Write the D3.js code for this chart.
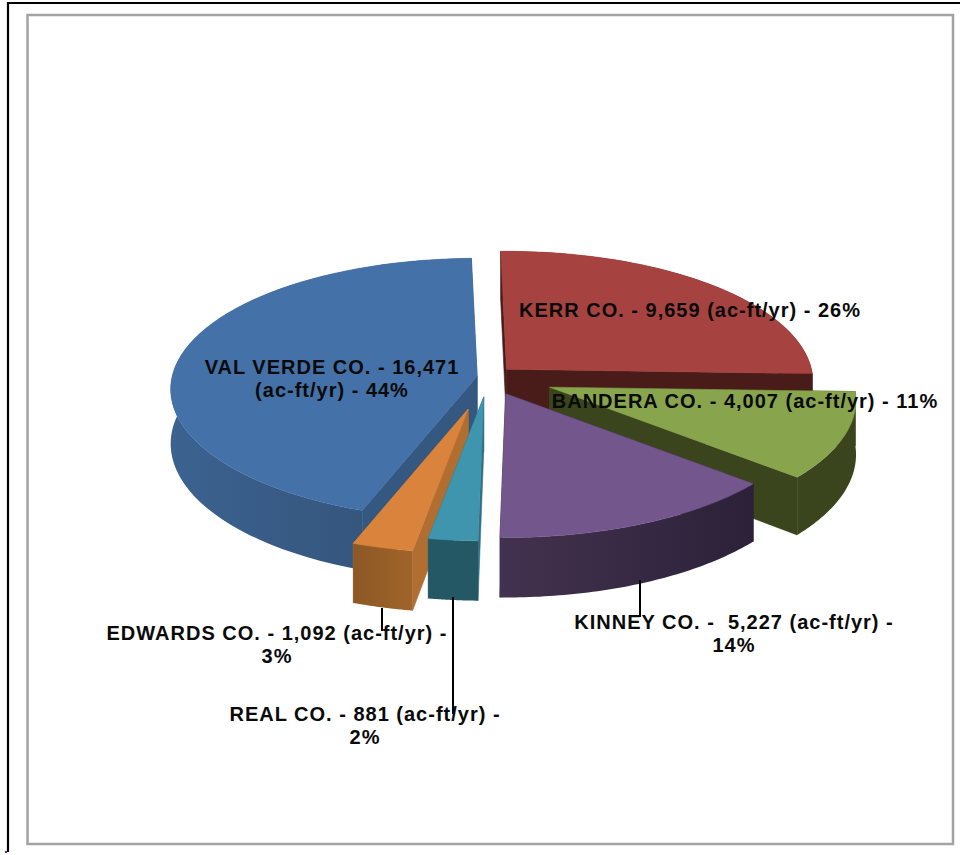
<!DOCTYPE html>
<html>
<head>
<meta charset="utf-8">
<script src="https://cdn.jsdelivr.net/npm/d3@7"></script>
<style>
  html, body { margin: 0; padding: 0; background: #fff; }
  svg { display: block; }
  text { font-family: "Liberation Sans", Arial, sans-serif; font-weight: bold; font-size: 20px; letter-spacing: 1px; fill: #0a0a0a; }
</style>
</head>
<body>
<svg id="chart" width="960" height="855"></svg>
<script>
const counties = ["KERR CO.", "BANDERA CO.", "KINNEY CO.", "REAL CO.", "EDWARDS CO.", "VAL VERDE CO."];
const acreFeet = [9659, 4007, 5227, 881, 1092, 16471];
const percents = [26, 11, 14, 2, 3, 44];

// how far each slice is pulled out, and the look of it
const explode = [26, 66, 43, 47, 78, 11];
const topColors = ["#a64340", "#88a44c", "#72568c", "#3f95ad", "#d9833c", "#4471a8"];
const wallColors = [["#4a1c19", "#4a1c19"], ["#3a451d", "#3a451d"], ["#43324f", "#2c2139"], ["#245864", "#245864"], ["#8c5825", "#a0642a"], ["#3b6290", "#324f72"]];
const cutColors = ["#4a1c19", "#3a451d", "#2c2139", "#2f7084", "#b06e30", "#34587f"];
const paintOrder = [5, 0, 1, 4, 3, 2];

const w = 960, h = 855;
const cx = 488, cy = 377;
const R = 305, squash = 0.425, persp = 0.099, depth = 54;
const turn = -1.2 * Math.PI / 180; // first slice starts a little left of 12 o'clock

const svg = d3.select("#chart");
const defs = svg.append("defs");

// black edge of the scanned page, and the chart frame
svg.append("path").attr("d", d3.line()([[8, 852], [8, 3], [w, 3]]))
  .attr("fill", "none").attr("stroke", "#000").attr("stroke-width", 2.2);
svg.append("rect").attr("x", 5).attr("y", 851).attr("width", 2).attr("height", 2).attr("fill", "#5a2a80");
svg.append("rect").attr("x", 27.5).attr("y", 15).attr("width", 925.5).attr("height", 829)
  .attr("fill", "#fff").attr("stroke", "#a3a3a3").attr("stroke-width", 2.5);

const arcs = d3.pie().sort(null).startAngle(turn).endAngle(turn + 2 * Math.PI).value(d => d)(acreFeet);

// slice point at angle a and radius fraction f, relative to the slice apex
function project(a, f) {
  const u = Math.sin(a) * f, v = Math.cos(a) * f;
  const s = 1 / (1 + persp * v);
  return { x: R * u * s, y: -R * squash * v * s, s };
}

const line = d3.line();

arcs.forEach((d, i) => { d.i = i; d.mid = (d.startAngle + d.endAngle) / 2; });

paintOrder.map(i => arcs[i]).forEach(d => {
  const i = d.i;
  const ax = cx + Math.sin(d.mid) * explode[i];
  const ay = cy - Math.cos(d.mid) * explode[i] * squash;
  const g = svg.append("g").attr("transform", `translate(${ax},${ay})`);

  const steps = d3.range(0, 61).map(k => d.startAngle + (d.endAngle - d.startAngle) * k / 60);
  const rim = steps.map(a => project(a, 1));
  const topPts = [[0, 0]].concat(rim.map(p => [p.x, p.y]));
  const rimLow = rim.map(p => [p.x, p.y + depth * p.s]).reverse();

  const gradId = "wall" + i;
  const grad = defs.append("linearGradient").attr("id", gradId)
    .attr("gradientUnits", "objectBoundingBox");
  grad.append("stop").attr("offset", 0).attr("stop-color", wallColors[i][0]);
  grad.append("stop").attr("offset", 1).attr("stop-color", wallColors[i][1]);

  // the two cut faces
  [rim[0], rim[rim.length - 1]].forEach(p => {
    g.append("path")
      .attr("d", line([[0, 0], [p.x, p.y], [p.x, p.y + depth * p.s], [0, depth]]) + "Z")
      .attr("fill", cutColors[i])
      .attr("stroke", cutColors[i]).attr("stroke-width", 0.6);
  });
  // outer wall
  g.append("path")
    .attr("d", line(rim.map(p => [p.x, p.y]).concat(rimLow)) + "Z")
    .attr("fill", `url(#${gradId})`);
  // top face
  g.append("path").attr("d", line(topPts) + "Z").attr("fill", topColors[i])
    .attr("stroke", topColors[i]).attr("stroke-width", 0.5);
});

// leader lines for the labels below the pie
const fmt = d3.format(",");
const leaders = [[640, 580, 617], [382, 608, 631], [453, 597, 714]];
leaders.forEach(l => {
  svg.append("line").attr("x1", l[0]).attr("x2", l[0]).attr("y1", l[1]).attr("y2", l[2])
    .attr("stroke", "#000").attr("stroke-width", 2);
});

function label(x, y, lines) {
  const t = svg.append("text").attr("text-anchor", "middle");
  lines.forEach((s, k) => {
    t.append("tspan").attr("x", x).attr("y", y + k * 23).attr("xml:space", "preserve").text(s);
  });
}
const amt = i => `${counties[i]} - ${fmt(acreFeet[i])} (ac-ft/yr)`;
label(690, 317, [`${amt(0)} - ${percents[0]}%`]);
label(745, 408, [`${amt(1)} - ${percents[1]}%`]);
label(734, 629, [`${counties[2]} -  ${fmt(acreFeet[2])} (ac-ft/yr) -`, `${percents[2]}%`]);
label(365, 721, [`${amt(3)} -`, `${percents[3]}%`]);
label(277, 640, [`${amt(4)} -`, `${percents[4]}%`]);
label(332, 374, [`${counties[5]} - ${fmt(acreFeet[5])}`, `(ac-ft/yr) - ${percents[5]}%`]);
</script>
</body>
</html>
